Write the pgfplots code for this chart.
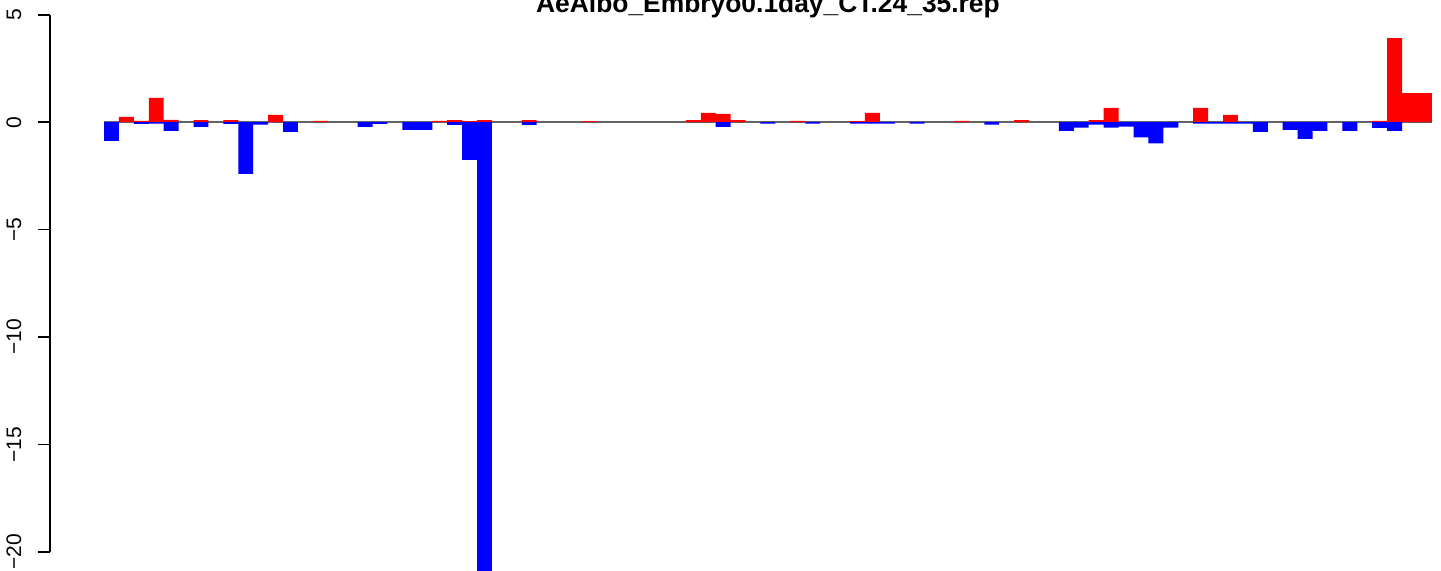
\documentclass[border=0pt]{standalone}
\usepackage{pgfplots}
\pgfplotsset{compat=1.18}
\usepackage{fontspec}
\setmainfont{Liberation Sans}
\definecolor{rred}{RGB}{255,0,0}
\definecolor{rblue}{RGB}{0,0,255}
\definecolor{zgray}{RGB}{100,100,100}
\begin{document}
\begin{tikzpicture}
\begin{axis}[
 scale only axis, width=695.5pt, height=285.5pt,
 xmin=-3.62, xmax=89.61, ymin=-20.89, ymax=5.69,
 axis line style={draw=none},
 xtick=\empty,
 ytick={-20,-15,-10,-5,0,5}, yticklabels={,,,,,},
 ytick pos=left, tick align=outside, major tick length=6pt,
 tick style={black, line width=0.8pt},
 clip mode=individual,
 ticklabel style={rotate=90, anchor=base, font=\fontsize{10.5}{12}\selectfont},
]
\addplot[draw=zgray, line width=0.75pt] coordinates {(0,0) (89,0)};
\addplot[ybar, bar width=1, bar shift=0pt, fill=rred, draw=none] coordinates {
(1.5,0.25) (2.5,0.06) (3.5,1.13) (4.5,0.11) (6.5,0.1) (8.5,0.1) (11.5,0.34) (14.5,0.06)
(22.5,0.06) (23.5,0.1) (24.5,0.05) (25.5,0.1) (28.5,0.1) (32.5,0.05) (39.5,0.1) (40.5,0.43)
(41.5,0.39) (42.5,0.1) (46.5,0.06) (50.5,0.05) (51.5,0.43) (57.5,0.06) (61.5,0.1) (66.5,0.1)
(67.5,0.67) (73.5,0.67) (75.5,0.34) (85.5,0.06) (86.5,3.92) (87.5,1.36) (88.5,1.36)};
\addplot[ybar, bar width=1, bar shift=0pt, fill=rblue, draw=none] coordinates {
(0.5,-0.87) (2.5,-0.08) (3.5,-0.06) (4.5,-0.40) (6.5,-0.22) (8.5,-0.08) (9.5,-2.40) (10.5,-0.11)
(12.5,-0.45) (17.5,-0.22) (18.5,-0.08) (20.5,-0.36) (21.5,-0.36) (23.5,-0.12) (24.5,-1.75)
(25.5,-21.5) (28.5,-0.12) (41.5,-0.22) (44.5,-0.06) (47.5,-0.06) (50.5,-0.06) (51.5,-0.06)
(52.5,-0.06) (54.5,-0.06) (59.5,-0.11) (64.5,-0.40) (65.5,-0.25) (66.5,-0.11) (67.5,-0.25)
(68.5,-0.20) (69.5,-0.71) (70.5,-0.99) (71.5,-0.25) (73.5,-0.06) (74.5,-0.06) (75.5,-0.06)
(76.5,-0.06) (77.5,-0.45) (79.5,-0.36) (80.5,-0.78) (81.5,-0.40) (83.5,-0.40) (85.5,-0.26)
(86.5,-0.40)};
\draw[line width=0.8pt] (axis cs:-3.62,-20) -- (axis cs:-3.62,5);
\node[rotate=90, anchor=base, inner sep=0pt, font=\fontsize{10.5}{12}\selectfont] at (axis cs:-5.56,5) {5};
\node[rotate=90, anchor=base, inner sep=0pt, font=\fontsize{10.5}{12}\selectfont] at (axis cs:-5.56,0) {0};
\node[rotate=90, anchor=base, inner sep=0pt, font=\fontsize{10.5}{12}\selectfont] at (axis cs:-5.56,-5) {−5};
\node[rotate=90, anchor=base, inner sep=0pt, font=\fontsize{10.5}{12}\selectfont] at (axis cs:-5.56,-10) {−10};
\node[rotate=90, anchor=base, inner sep=0pt, font=\fontsize{10.5}{12}\selectfont] at (axis cs:-5.56,-15) {−15};
\node[rotate=90, anchor=base, inner sep=0pt, font=\fontsize{10.5}{12}\selectfont] at (axis cs:-5.56,-20) {−20};
\node[anchor=base, inner sep=0pt, font=\bfseries\fontsize{13.2}{15}\selectfont] at (axis cs:44.5,5.09) {AeAlbo\_Embryo0.1day\_CT.24\_35.rep};
\end{axis}
\pgfresetboundingbox
\path[use as bounding box] ([xshift=-25pt]current axis.south west) rectangle (current axis.north east);
\end{tikzpicture}
\end{document}
